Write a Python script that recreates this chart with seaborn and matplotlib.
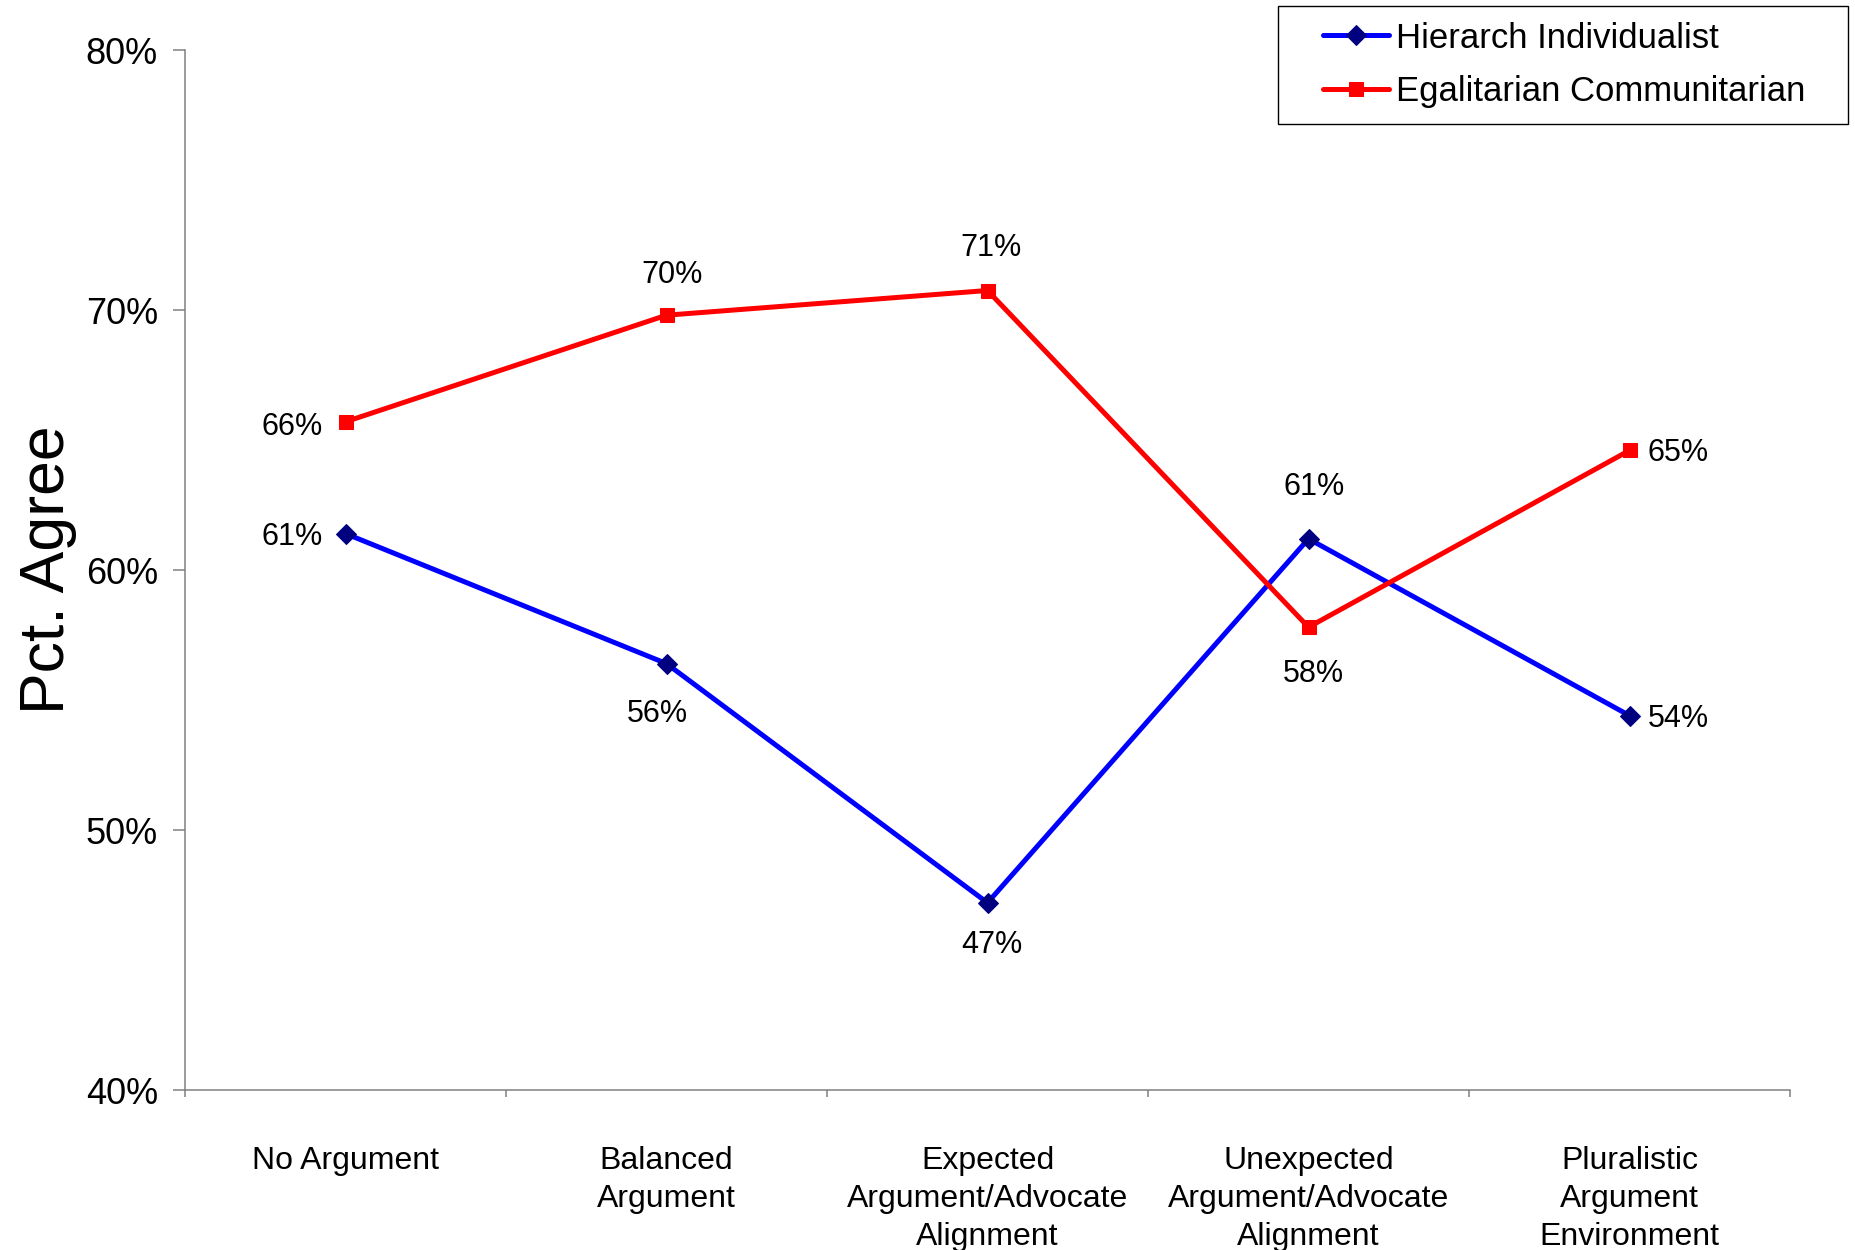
import matplotlib
matplotlib.use("Agg")
import matplotlib.pyplot as plt
from matplotlib.legend_handler import HandlerLine2D
from matplotlib.ticker import FixedLocator, NullFormatter, PercentFormatter
import seaborn as sns
import pandas as pd

# ---- data ----
categories = ["No Argument", "Balanced\nArgument", "Expected\nArgument/Advocate\nAlignment",
              "Unexpected\nArgument/Advocate\nAlignment", "Pluralistic\nArgument\nEnvironment"]
hierarch_individualist = [61.4, 56.4, 47.2, 61.2, 54.4]
egalitarian_communitarian = [65.7, 69.8, 70.75, 57.8, 64.6]
series_names = ["Hierarch Individualist", "Egalitarian Communitarian"]
y_ticks = [40, 50, 60, 70, 80]

# ---- label placement (style) : pixel offsets ----
hi_offsets = [(-23, -3, "right"), (-9, -50, "center"), (4, -42, "center"), (6, 52, "center"), (18, -3, "left")]
ec_offsets = [(-23, -5, "right"), (6, 40, "center"), (4, 43, "center"), (5, -47, "center"), (18, -3, "left")]

sns.set_theme(style="white")
plt.rcParams["font.family"] = ["Liberation Sans", "DejaVu Sans"]

fig = plt.figure(figsize=(18.55, 12.5), dpi=100)
ax = fig.add_axes([185 / 1855, 1 - 1090 / 1250, (1790 - 185) / 1855, (1090 - 50) / 1250])

df_hi = pd.DataFrame({"cat": categories, "val": hierarch_individualist})
df_ec = pd.DataFrame({"cat": categories, "val": egalitarian_communitarian})

sns.lineplot(data=df_hi, x="cat", y="val", ax=ax, color="#0000FF", linewidth=3.6,
             marker="D", markersize=10, sort=False)
sns.lineplot(data=df_ec, x="cat", y="val", ax=ax, color="#FF0000", linewidth=3.6,
             marker="s", markersize=10, sort=False)

lines = ax.lines
lines[0].set_markerfacecolor("#000080"); lines[0].set_markeredgecolor("#000080")
lines[1].set_markerfacecolor("#FF0000"); lines[1].set_markeredgecolor("#FF0000")
lines[0].set_label(series_names[0]); lines[1].set_label(series_names[1])

for vals, offs in ((hierarch_individualist, hi_offsets), (egalitarian_communitarian, ec_offsets)):
    for i, (v, (dx, dy, ha)) in enumerate(zip(vals, offs)):
        ax.annotate(f"{round(v):d}%", (i, v), xytext=(dx, dy), textcoords="offset pixels",
                    ha=ha, va="center", fontsize=22, color="black")

ax.set_xlim(-0.5, len(categories) - 0.5)
ax.set_ylim(y_ticks[0], y_ticks[-1])
ax.set_yticks(y_ticks)
ax.yaxis.set_major_formatter(PercentFormatter(decimals=0))

# x: major ticks at boundaries (no labels), category labels as minor ticks
ax.xaxis.set_major_locator(FixedLocator([i - 0.5 for i in range(len(categories) + 1)]))
ax.xaxis.set_major_formatter(NullFormatter())
ax.xaxis.set_minor_locator(FixedLocator(list(range(len(categories)))))
ax.set_xticklabels(categories, minor=True, linespacing=1.35)
ax.tick_params(axis="x", which="minor", length=0, pad=40, labelsize=23, colors="black")
ax.tick_params(axis="x", which="major", length=5, width=1.1, color="#808080", direction="out", bottom=True)
ax.tick_params(axis="y", length=8.5, width=1.1, color="#808080", direction="out", left=True,
               pad=11, labelsize=26, labelcolor="black")

for s in ("top", "right"):
    ax.spines[s].set_visible(False)
for s in ("left", "bottom"):
    ax.spines[s].set_color("#808080")
    ax.spines[s].set_linewidth(1.1)

ax.set_xlabel("")
ax.set_ylabel("Pct. Agree", fontsize=45, color="black")
ax.yaxis.set_label_coords(-0.067, 0.5)

leg = fig.legend(handles=[lines[0], lines[1]], labels=series_names,
                 loc="upper left", bbox_to_anchor=(1278 / 1855, 1 - 6 / 1250, 570 / 1855, 0.0),
                 bbox_transform=fig.transFigure, mode="expand", borderaxespad=0,
                 fontsize=25, frameon=True, fancybox=False, framealpha=1, edgecolor="black",
                 borderpad=0.45, labelspacing=0.6, handlelength=2.75, handletextpad=0.2,
                 labelcolor="black",
                 handler_map={lines[0]: HandlerLine2D(xpad=0.85), lines[1]: HandlerLine2D(xpad=0.85)})
leg.get_frame().set_linewidth(1.0)

fig.savefig("out.png", dpi=100)
